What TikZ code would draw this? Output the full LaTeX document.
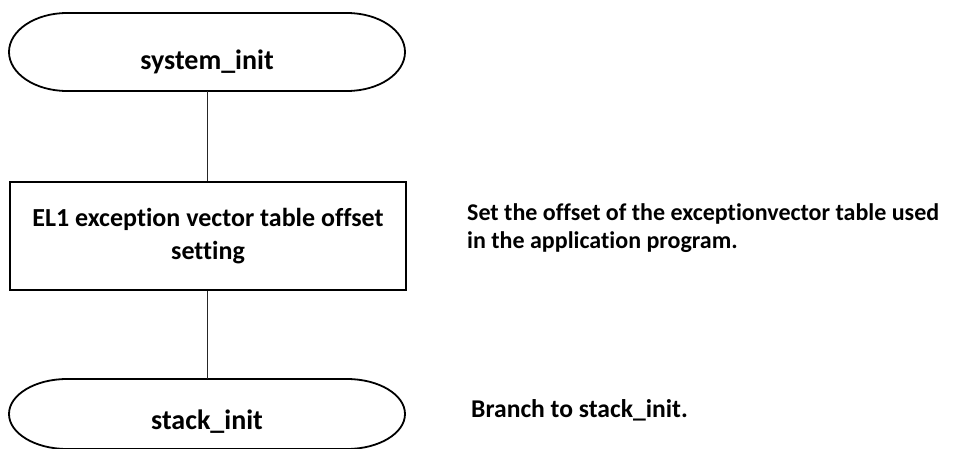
\documentclass[tikz,border=0pt]{standalone}
\usepackage{fontspec}
\setmainfont[Ligatures={NoCommon}]{Carlito}
\begin{document}
\begin{tikzpicture}[x=1pt,y=-1pt,
  termtxt/.style={font=\fontsize{28}{34}\selectfont\bfseries, inner sep=0pt, anchor=base},
  link/.style={draw=black!85, line width=1pt},
  outline/.style={draw=black, line width=1.8pt}]
\useasboundingbox (0,0) rectangle (980,449);
% top terminator
\draw[outline] (67,13) -- (347,13) .. controls (379,13) and (405,30.5) .. (405,52)
  .. controls (405,73.5) and (379,91) .. (347,91) -- (67,91)
  .. controls (35,91) and (9,73.5) .. (9,52) .. controls (9,30.5) and (35,13) .. (67,13) -- cycle;
\node[termtxt] (sys) at (207,70) {system\_init};
\coordinate (sysbot) at (207,91);
% box
\node[outline, minimum width=396pt, minimum height=108pt, inner sep=0pt, align=center,
  font=\fontsize{26}{33}\selectfont\bfseries] (box) at (208,236) {EL1 exception vector table offset\\setting};
% bottom terminator
\draw[outline] (67,379) -- (347,379) .. controls (379,379) and (405,394.7) .. (405,414)
  .. controls (405,433.3) and (379,449) .. (347,449) -- (67,449)
  .. controls (35,449) and (9,433.3) .. (9,414) .. controls (9,394.7) and (35,379) .. (67,379) -- cycle;
\node[termtxt] (stk) at (207,429) {stack\_init};
\coordinate (stktop) at (207,379);
% connectors
\draw[link] (sysbot) -- (box.north -| sysbot);
\draw[link] (box.south -| sysbot) -- (stktop);
% notes
\node[anchor=west, align=left, font=\fontsize{24}{28}\selectfont\bfseries, inner sep=0pt] (note1) at (467,228) {Set the offset of the exceptionvector table used\\in the application program.};
\node[anchor=base west, font=\fontsize{25.6}{30}\selectfont\bfseries, inner sep=0pt] (note2) at (471,417) {Branch to stack\_init.};
\end{tikzpicture}
\end{document}
